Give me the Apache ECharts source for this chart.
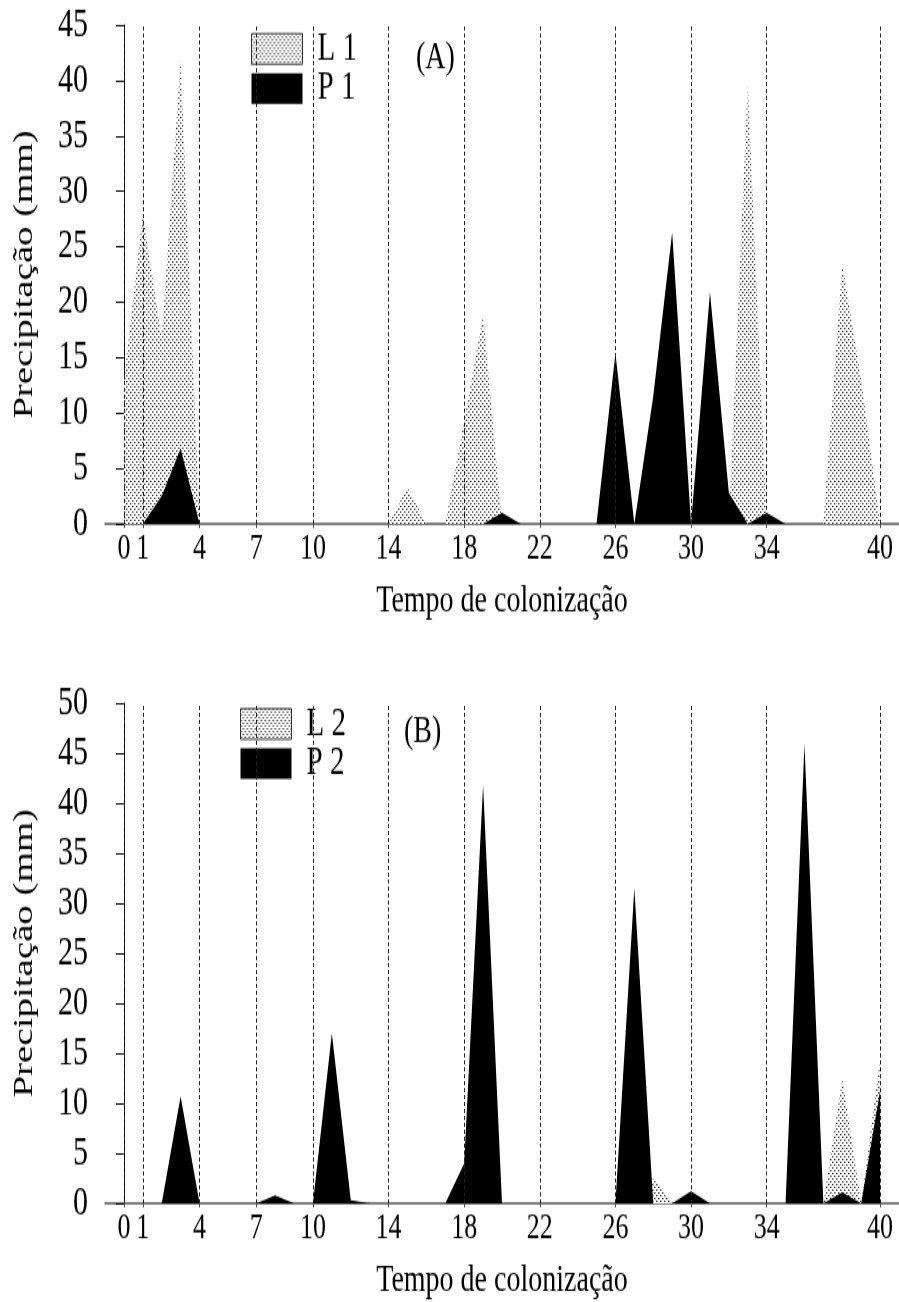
<!DOCTYPE html>
<html>
<head>
<meta charset="utf-8">
<script src="https://cdn.jsdelivr.net/npm/echarts@6/dist/echarts.min.js"></script>
<style>
  html, body { margin: 0; padding: 0; background: #fff; width: 899px; height: 1302px; overflow: hidden; }
  /* The figure is drawn in a compact frame and stretched to full page height */
  #chart { width: 899px; height: 937px; transform: scaleY(1.38954); transform-origin: 0 0; }
</style>
</head>
<body>
<div id="chart"></div>
<script>
// Days of colonization (x values of every series)
const days = [0, 1, 2, 3, 4, 5, 6, 7, 8, 9, 10, 11, 12, 13, 14, 15, 16, 17, 18, 19, 20,
              21, 22, 23, 24, 25, 26, 27, 28, 29, 30, 31, 32, 33, 34, 35, 36, 37, 38, 39, 40];
// Sampling days marked on the x axis
const dayTicks = [0, 1, 4, 7, 10, 14, 18, 22, 26, 30, 34, 40];

// Panel A precipitation (mm)
const precipL1 = [13, 27.9, 16.7, 41.8, 0, 0, 0, 0, 0, 0, 0, 0, 0, 0, 0, 3.3, 0, 0, 9.3, 18.8, 0,
                  0, 0, 0, 0, 0, 0, 0, 0, 0, 0, 0, 0, 39.7, 0, 0, 0, 0, 23.4, 13, 0];
const precipP1 = [0, 0, 2.5, 6.8, 0, 0, 0, 0, 0, 0, 0, 0, 0, 0, 0, 0, 0, 0, 0, 0, 1.0,
                  0, 0, 0, 0, 0, 15.4, 0, 11.5, 26.3, 0, 20.9, 2.8, 0, 1.0, 0, 0, 0, 0, 0, 0];
// Panel B precipitation (mm)
const precipL2 = [0, 0, 0, 0, 0, 0, 0, 0, 0, 0, 0, 0, 0, 0, 0, 0, 0, 0, 0, 0, 0,
                  0, 0, 0, 0, 0, 0, 0, 2.5, 0, 0, 0, 0, 0, 0, 0, 0, 0, 12.5, 0, 14.4];
const precipP2 = [0, 0, 0, 10.7, 0, 0, 0, 0, 0.8, 0, 0, 17.0, 0.3, 0, 0, 0, 0, 0, 4.0, 41.8, 0,
                  0, 0, 0, 0, 0, 0, 31.5, 0, 0, 1.2, 0, 0, 0, 0, 0, 45.9, 0, 1.1, 0, 11.3];

const FONT = "'Liberation Serif', 'Times New Roman', serif";

// Stipple fill used for the L series
function makeStipple() {
  const c = document.createElement('canvas');
  c.width = 4; c.height = 4;
  const g = c.getContext('2d');
  g.fillStyle = '#ffffff';
  g.fillRect(0, 0, 4, 4);
  g.fillStyle = '#333333';
  g.fillRect(0, 0, 1, 1);
  g.fillRect(2, 2, 1, 1);
  g.fillStyle = '#999999';
  g.fillRect(1, 0, 1, 1);
  g.fillRect(3, 2, 1, 1);
  return c;
}
const stipple = { image: makeStipple(), repeat: 'repeat' };

const pairs = vals => days.map((d, i) => [d, vals[i]]);

function xAxisFor(gridIndex) {
  return {
    type: 'value', gridIndex, min: -1, max: 41,
    axisLine: { show: true, lineStyle: { color: '#555', width: 1.5 } },
    axisTick: { show: true, customValues: dayTicks, length: 3, lineStyle: { color: '#555' } },
    axisLabel: { customValues: dayTicks, fontSize: 26, margin: 5, color: '#000', fontFamily: FONT },
    splitLine: { show: false },
    name: 'Tempo de colonização', nameLocation: 'middle', nameGap: 42,
    nameTextStyle: { fontSize: 28, color: '#000', fontFamily: FONT }
  };
}
function yAxisFor(gridIndex, max) {
  return {
    type: 'value', gridIndex, min: 0, max, interval: 5,
    axisLine: { show: true, lineStyle: { color: '#000', width: 1 } },
    axisTick: { show: true, length: 8, lineStyle: { color: '#000' } },
    axisLabel: { fontSize: 30, margin: 17, color: '#000', fontFamily: FONT },
    splitLine: { show: false },
    name: 'Precipitação (mm)', nameLocation: 'middle', nameGap: 66, nameRotate: 90,
    nameTextStyle: { fontSize: 28, color: '#000', fontFamily: FONT }
  };
}
function dashedDays() {
  return {
    silent: true, symbol: ['none', 'none'], label: { show: false },
    lineStyle: { type: [3, 2], color: '#222', width: 1 },
    emphasis: { disabled: true },
    data: dayTicks.map(d => ({ xAxis: d }))
  };
}
function areaSeries(name, vals, idx, fill, z, withLines) {
  const s = {
    name, type: 'line', xAxisIndex: idx, yAxisIndex: idx, data: pairs(vals),
    symbol: 'none', z,
    itemStyle: { color: fill },
    lineStyle: { width: 0 },
    areaStyle: { color: fill, opacity: 1 },
    emphasis: { disabled: true }
  };
  if (withLines) s.markLine = dashedDays();
  return s;
}
function legendFor(left, top, names) {
  return {
    orient: 'vertical', left, top, padding: 0, itemWidth: 51, itemHeight: 22, itemGap: -0.5,
    selectedMode: false,
    textStyle: { fontSize: 29, color: '#000', fontFamily: FONT, padding: [0, 0, 0, 10] },
    data: [
      { name: names[0], icon: 'rect', itemStyle: { color: stipple, borderColor: '#333', borderWidth: 1 } },
      { name: names[1], icon: 'rect', itemStyle: { color: '#000', borderWidth: 0 } }
    ]
  };
}

const chart = echarts.init(document.getElementById('chart'), null, { renderer: 'canvas' });
chart.setOption({
  animation: false,
  backgroundColor: '#fff',
  title: [
    { text: '(A)', left: 411, top: 23, textStyle: { fontSize: 28, fontWeight: 'normal', color: '#000', fontFamily: FONT } },
    { text: '(B)', left: 399, top: 508, textStyle: { fontSize: 28, fontWeight: 'normal', color: '#000', fontFamily: FONT } }
  ],
  legend: [legendFor(251, 20.7, ['L 1', 'P 1']), legendFor(240, 506.5, ['L 2', 'P 2'])],
  grid: [
    { left: 105, right: 0, top: 18, height: 359 },
    { left: 105, right: 0, top: 506, height: 360 }
  ],
  xAxis: [xAxisFor(0), xAxisFor(1)],
  yAxis: [yAxisFor(0, 45), yAxisFor(1, 50)],
  series: [
    areaSeries('L 1', precipL1, 0, stipple, 2, true),
    areaSeries('P 1', precipP1, 0, '#000', 4, false),
    areaSeries('L 2', precipL2, 1, stipple, 2, true),
    areaSeries('P 2', precipP2, 1, '#000', 4, false)
  ]
});
</script>
</body>
</html>
